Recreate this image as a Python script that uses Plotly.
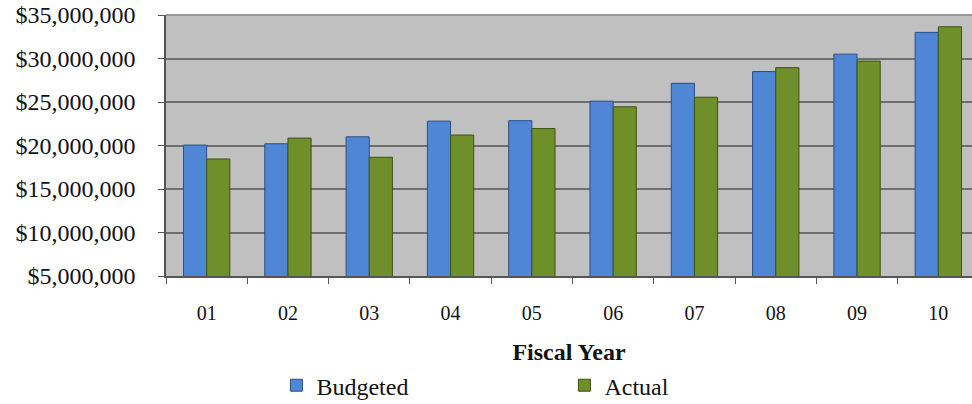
import plotly.graph_objects as go

years = ["01", "02", "03", "04", "05", "06", "07", "08", "09", "10"]
budgeted = [20.05e6, 20.2e6, 21.0e6, 22.8e6, 22.85e6, 25.1e6, 27.15e6, 28.5e6, 30.5e6, 33.0e6]
actual = [18.45e6, 20.85e6, 18.65e6, 21.2e6, 21.95e6, 24.45e6, 25.55e6, 28.95e6, 29.7e6, 33.65e6]
y_ticks = [5e6, 10e6, 15e6, 20e6, 25e6, 30e6, 35e6]
y_tick_labels = ["$5,000,000", "$10,000,000", "$15,000,000", "$20,000,000",
                 "$25,000,000", "$30,000,000", "$35,000,000"]

serif = "Liberation Serif, Times New Roman, serif"

fig = go.Figure()
fig.add_trace(go.Bar(
    x=years, y=budgeted, name="Budgeted",
    marker=dict(color="#4f86d6", line=dict(color="#2c4f86", width=1)),
))
fig.add_trace(go.Bar(
    x=years, y=actual, name="Actual",
    marker=dict(color="#6f8f2a", line=dict(color="#3e5316", width=1)),
))

fig.update_layout(
    width=972, height=404,
    margin=dict(l=166, r=0, t=15, b=128, autoexpand=False),
    paper_bgcolor="white",
    plot_bgcolor="#c0c0c0",
    barmode="group",
    bargap=0.43,
    bargroupgap=0,
    font=dict(family=serif, color="#111111"),
    showlegend=True,
    legend=dict(
        orientation="h",
        x=0.137, xanchor="left",
        y=-0.42, yanchor="middle",
        font=dict(family=serif, size=24, color="#111111"),
        entrywidth=243, entrywidthmode="pixels",
        itemwidth=30,
        bgcolor="rgba(0,0,0,0)",
    ),
    xaxis=dict(
        type="category",
        range=[-0.5, 9.414],
        tickson="boundaries",
        ticks="outside", ticklen=6, tickcolor="#555555",
        tickfont=dict(family=serif, size=20, color="#111111"),
        ticklabelstandoff=18,
        showline=True, linecolor="#555555", linewidth=1.5,
        showgrid=False,
        title=dict(text="<b>Fiscal Year</b>", font=dict(family=serif, size=24, color="#111111"), standoff=20),
    ),
    yaxis=dict(
        range=[5e6, 35e6],
        tickvals=y_ticks, ticktext=y_tick_labels,
        ticks="outside", ticklen=6, tickcolor="#555555",
        tickfont=dict(family=serif, size=24, color="#111111"),
        ticklabelstandoff=18,
        showline=True, linecolor="#555555", linewidth=1.5, mirror=False,
        showgrid=True, gridcolor="#6e6e6e", gridwidth=1.5,
        zeroline=False,
    ),
)

fig.add_shape(type="line", xref="paper", yref="paper", x0=0, x1=1, y0=1, y1=1,
              line=dict(color="#9a9a9a", width=2))

fig.write_html("out.html")
